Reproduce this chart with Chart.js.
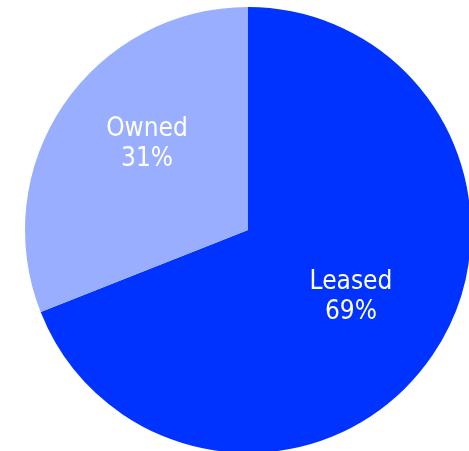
<!DOCTYPE html>
<html>
<head>
<meta charset="utf-8">
<script src="https://cdn.jsdelivr.net/npm/chart.js@4.4.1/dist/chart.umd.min.js"></script>
<style>
  html, body { margin: 0; padding: 0; background: #fff; }
  #wrap { width: 469px; height: 451px; overflow: hidden; position: relative; }
  #chart { position: absolute; left: 0; top: 0; }
</style>
</head>
<body>
<div id="wrap">
  <canvas id="chart" width="496" height="460"></canvas>
</div>
<script>
// data
const labels = ["Leased", "Owned"];
const shares = [69, 31];
const colors = ["#0033ff", "#99aeff"];

// small nudges so the labels sit where the original put them
const labelNudge = [[-4, -5], [6, -13]];

// draws "Label / NN%" inside each slice
const sliceLabels = {
  id: "sliceLabels",
  afterDatasetsDraw(chart) {
    const ctx = chart.ctx;
    const meta = chart.getDatasetMeta(0);
    ctx.save();
    ctx.fillStyle = "#ffffff";
    ctx.font = "26px 'DejaVu Sans Condensed', 'DejaVu Sans', sans-serif";
    ctx.textAlign = "center";
    ctx.textBaseline = "middle";
    meta.data.forEach((arc, i) => {
      const mid = (arc.startAngle + arc.endAngle) / 2;
      const r = arc.outerRadius * 0.58;
      const x = arc.x + Math.cos(mid) * r + labelNudge[i][0];
      const y = arc.y + Math.sin(mid) * r + labelNudge[i][1];
      ctx.fillText(labels[i], x, y - 15);
      ctx.fillText(shares[i] + "%", x, y + 15);
    });
    ctx.restore();
  }
};

new Chart(document.getElementById("chart"), {
  type: "pie",
  data: {
    labels: labels,
    datasets: [{
      data: shares,
      backgroundColor: colors,
      borderWidth: 0
    }]
  },
  options: {
    responsive: false,
    animation: false,
    layout: { padding: { left: 25, right: 25, top: 7, bottom: 7 } },
    plugins: {
      legend: { display: false },
      tooltip: { enabled: false }
    }
  },
  plugins: [sliceLabels]
});
</script>
</body>
</html>
